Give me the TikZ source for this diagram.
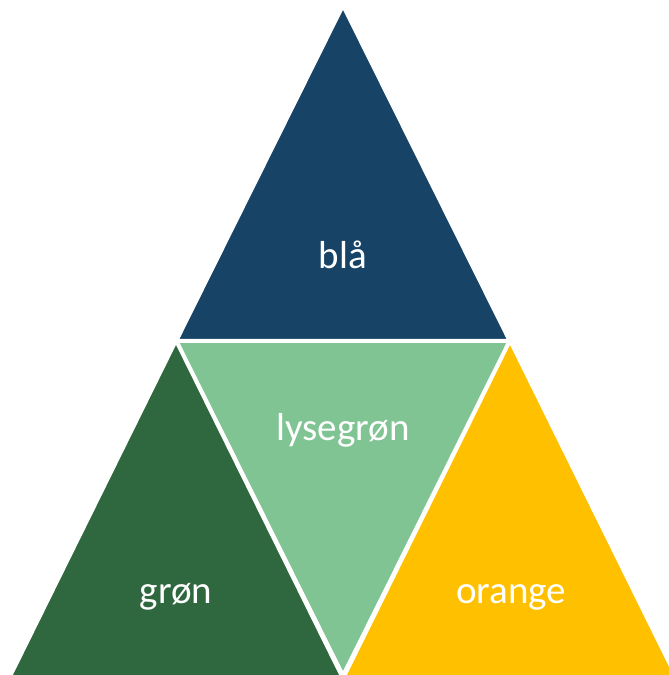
\documentclass[tikz,border=0pt]{standalone}
\usepackage{fontspec}
\setmainfont{Carlito}
\definecolor{cblue}{HTML}{174366}
\definecolor{clight}{HTML}{80C493}
\definecolor{cdark}{HTML}{2F683E}
\definecolor{corange}{HTML}{FFC000}
\begin{document}
\begin{tikzpicture}[x=1pt,y=-1pt,
  tri/.style={draw=white,line width=2.5pt,line join=miter},
  lbl/.style={text=white,font=\fontsize{39}{44}\selectfont,inner sep=0pt,anchor=base}]
\useasboundingbox (0,0) rectangle (669,675);
\clip (0,0) rectangle (669,675);
\fill[white] (0,0) rectangle (669,675);
\filldraw[tri,fill=cblue] (343,7) -- (508.5,340) -- (177.5,340) -- cycle;
\filldraw[tri,fill=clight] (177.5,341.5) -- (508.5,341.5) -- (343,674) -- cycle;
\filldraw[tri,fill=cdark] (176,342) -- (342,678) -- (10,678) -- cycle;
\filldraw[tri,fill=corange] (510,342) -- (676,678) -- (344,678) -- cycle;
\node[lbl] (bla) at (343,268) {blå};
\node[lbl] (lys) at (343,440) {lysegrøn};
\node[lbl] (gron) at (176,603) {grøn};
\node[lbl] (orange) at (511,603) {orange};
\end{tikzpicture}
\end{document}
